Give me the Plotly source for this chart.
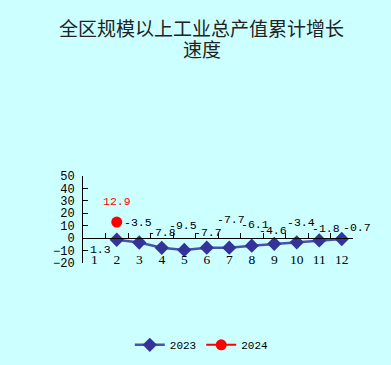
import plotly.graph_objects as go

months = [str(i) for i in range(1, 13)]
months_2023 = [str(i) for i in range(2, 13)]
values_2023 = [-1.3, -3.5, -7.8, -9.5, -7.7, -7.7, -6.1, -4.6, -3.4, -1.8, -0.7]
months_2024 = ["2"]
values_2024 = [12.9]
y_ticks = [50, 40, 30, 20, 10, 0, -10, -20]
title_lines = ["全区规模以上工业总产值累计增长", "速度"]

# label offsets (pixels) relative to each point, to mimic the reference placement
shift_2023 = [(-20, -10), (-1, 20), (0, 15), (-1, 24), (1, 15), (2, 28),
              (3, 21), (-1, 13), (4, 20), (7, 12), (15, 12)]
shift_2024 = [(0, 21)]

BG = "#CCFFFF"
fig = go.Figure()
fig.add_trace(go.Scatter(
    x=months_2023, y=values_2023, name="2023", mode="lines+markers",
    line=dict(color="rgba(51,51,153,0.85)", width=2.5),
    marker=dict(symbol="diamond", size=11, color="#333399"),
))
fig.add_trace(go.Scatter(
    x=months_2024, y=values_2024, name="2024", mode="lines+markers",
    line=dict(color="#FF0000", width=2),
    marker=dict(symbol="circle", size=11, color="#FF0000"),
))
# invisible trace to activate the label axis
fig.add_trace(go.Scatter(x=months, y=[None] * 12, xaxis="x2", showlegend=False,
                         hoverinfo="skip"))

annotations = []
for m, v, (dx, dy) in zip(months_2023, values_2023, shift_2023):
    annotations.append(dict(x=months.index(m), y=v, xref="x", yref="y", text=f"{v}",
                            showarrow=False, xshift=dx, yshift=dy,
                            font=dict(family="Liberation Mono", size=11.5, color="black")))
for m, v, (dx, dy) in zip(months_2024, values_2024, shift_2024):
    annotations.append(dict(x=months.index(m), y=v, xref="x", yref="y", text=f"{v}",
                            showarrow=False, xshift=dx, yshift=dy,
                            font=dict(family="Liberation Mono", size=11.5, color="#FF0000")))
# title, two lines
for line, py in zip(title_lines, [27, 48]):
    annotations.append(dict(x=0.44, xref="paper", y=(263 - py) / 87, yref="paper",
                            text=line, showarrow=False, xanchor="center", yanchor="middle",
                            font=dict(family="Noto Sans CJK SC", size=19, color="#222222")))

ymin, ymax = -20, 50
fig.update_layout(
    width=391, height=365,
    paper_bgcolor=BG, plot_bgcolor=BG,
    margin=dict(l=83, r=38, t=176, b=102, autoexpand=False),
    xaxis=dict(type="category", categoryorder="array", categoryarray=months,
               range=[-0.5, 11.5], anchor="free", position=(0 - ymin) / (ymax - ymin),
               showline=True, linecolor="black", linewidth=1,
               ticks="inside", ticklen=5, tickcolor="black", tickson="boundaries",
               showticklabels=False, showgrid=False, zeroline=False),
    xaxis2=dict(type="category", categoryorder="array", categoryarray=months,
                range=[-0.5, 11.5], overlaying="x", anchor="free", position=0.15,
                side="bottom", showline=False, ticks="", showgrid=False,
                tickfont=dict(family="Liberation Serif", size=13.5, color="black")),
    yaxis=dict(range=[ymin, ymax], tickvals=y_ticks, showline=True, linecolor="black",
               linewidth=1, ticks="inside", ticklen=5, tickcolor="black",
               showgrid=False, zeroline=False, ticklabelstandoff=5,
               tickfont=dict(family="Liberation Mono", size=12, color="black")),
    legend=dict(orientation="h", x=0.44, xanchor="center", y=-0.94, yanchor="middle",
                bgcolor="rgba(0,0,0,0)",
                font=dict(family="Liberation Mono", size=11, color="black")),
    annotations=annotations,
    showlegend=True,
)
fig.write_html("out.html", post_script="document.body.style.margin='0';",
               config={"displayModeBar": False})
